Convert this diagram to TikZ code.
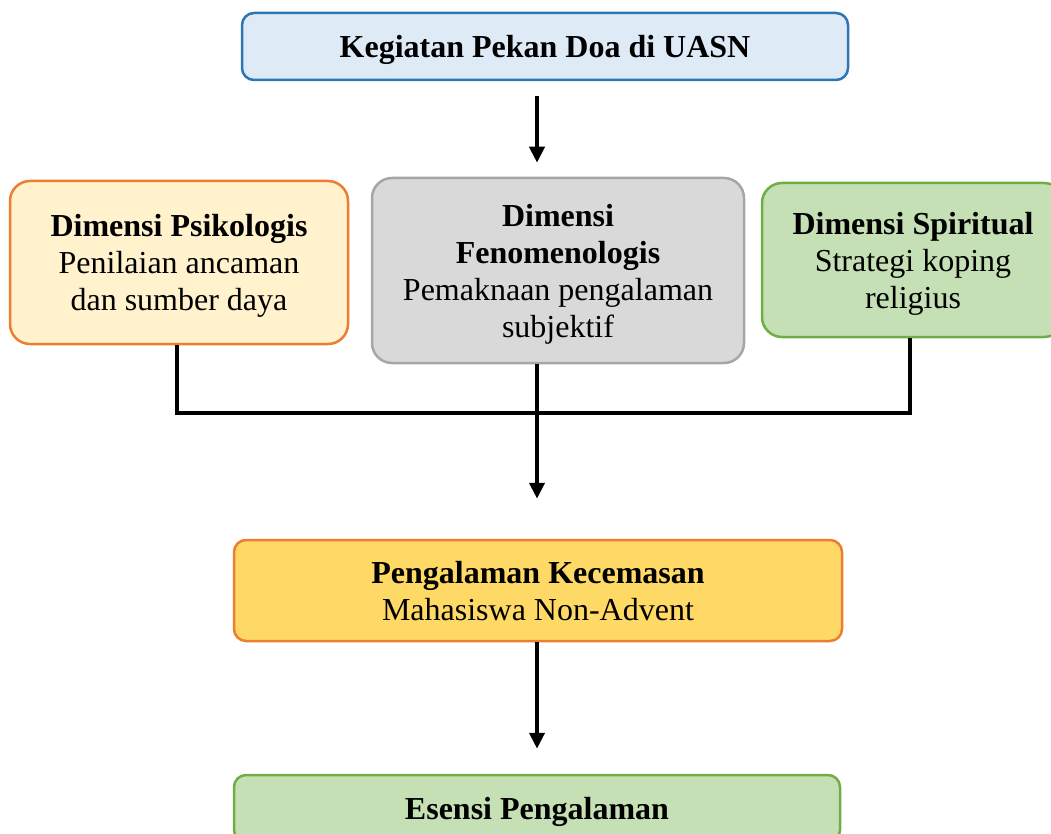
\documentclass[tikz,border=0pt]{standalone}
\usepackage{fontspec}
\setmainfont{Liberation Serif}
\usetikzlibrary{arrows.meta}

\definecolor{doafill}{HTML}{DEEBF7}
\definecolor{doaline}{HTML}{2E75B6}
\definecolor{psifill}{HTML}{FFF2CC}
\definecolor{orangeline}{HTML}{ED7D31}
\definecolor{fenfill}{HTML}{D9D9D9}
\definecolor{fenline}{HTML}{A6A6A6}
\definecolor{greenfill}{HTML}{C5E0B4}
\definecolor{greenline}{HTML}{70AD47}
\definecolor{cemfill}{HTML}{FFD966}

\begin{document}
\begin{tikzpicture}
  [x=1pt,y=-1pt,>={Triangle[width=15pt,length=16pt]},line width=4.5pt,
   every node/.style={align=center,font=\fontsize{32}{37}\selectfont}]
  \tikzstyle{dimbox}=[draw,rounded corners=20pt,line width=2.5pt,inner sep=0pt,text depth=-3pt]
  \tikzstyle{widebox}=[draw,rounded corners=12pt,line width=2.5pt,inner sep=0pt,text depth=0pt]
  \useasboundingbox (0,0) rectangle (1051,834);

  \node[widebox,fill=doafill,draw=doaline,minimum width=606pt,minimum height=67pt]
    (doa) at (545,46.5) {\textbf{Kegiatan Pekan Doa di UASN}};

  \begin{scope}
    \node[dimbox,fill=psifill,draw=orangeline,minimum width=338pt,minimum height=163pt]
      (psi) at (179,262.5) {\textbf{Dimensi Psikologis}\\Penilaian ancaman\\dan sumber daya};
    \node[dimbox,fill=fenfill,draw=fenline,minimum width=372pt,minimum height=185pt]
      (fen) at (558,270.5) {\textbf{Dimensi}\\\textbf{Fenomenologis}\\Pemaknaan pengalaman\\subjektif};
    \node[dimbox,fill=greenfill,draw=greenline,minimum width=302pt,minimum height=154pt]
      (spi) at (913,260) {\textbf{Dimensi Spiritual}\\Strategi koping\\religius};
  \end{scope}

  \node[widebox,fill=cemfill,draw=orangeline,minimum width=608pt,minimum height=101pt]
    (cem) at (538,590.5) {\textbf{Pengalaman Kecemasan}\\Mahasiswa Non-Advent};
  \node[widebox,fill=greenfill,draw=greenline,minimum width=606pt,minimum height=67pt]
    (esn) at (537,808.5) {\textbf{Esensi Pengalaman}};

  \coordinate (join) at (537,413);

  \draw[->,shorten <=15pt,shorten >=14pt] (doa.south -| join) -- (fen.north -| join);
  \draw ([xshift=-2pt]psi.south) |- (join) -| ([xshift=-3pt]spi.south);
  \draw[->,shorten >=40pt] (fen.south -| join) -- (cem.north -| join);
  \draw[->,shorten >=25pt] (cem.south -| join) -- (esn.north -| join);

\end{tikzpicture}
\end{document}
